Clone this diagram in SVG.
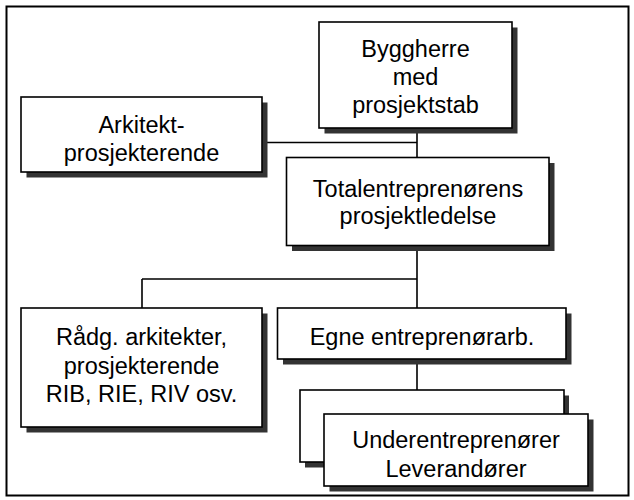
<svg xmlns="http://www.w3.org/2000/svg" width="634" height="500" viewBox="0 0 634 500">
<style>
.box{fill:#fff;stroke:#000;stroke-width:1.6}
.sh{fill:#333}
.ln{fill:none;stroke:#000;stroke-width:1.6}
text{font-family:"Liberation Sans",Arial,sans-serif;font-size:23.5px;fill:#000;text-anchor:middle}
</style>
<rect x="6.5" y="6.5" width="622" height="489" fill="#fff" stroke="#000" stroke-width="2"/>
<g id="connectors">
<path class="ln" d="M417 128V157M267 142.5H417M417 245V308M142 279H417M142 279V308M417 359V390"/>
</g>
<g id="byggherre">
<rect class="sh" x="324.5" y="27.5" width="193" height="106"/>
<rect class="box" x="319" y="22" width="193" height="106"/>
<text x="415.5" y="57">Byggherre</text>
<text x="415.5" y="85">med</text>
<text x="415.5" y="113">prosjektstab</text>
</g>
<g id="arkitekt">
<rect class="sh" x="26.5" y="102.5" width="241" height="75"/>
<rect class="box" x="21" y="97" width="241" height="75"/>
<text x="141.5" y="132.5">Arkitekt-</text>
<text x="141.5" y="160.5">prosjekterende</text>
</g>
<g id="totalentreprenor">
<rect class="sh" x="292" y="163" width="262.5" height="88"/>
<rect class="box" x="286.5" y="157.5" width="262.5" height="88"/>
<text x="418" y="196.5">Totalentreprenørens</text>
<text x="418" y="224">prosjektledelse</text>
</g>
<g id="radg">
<rect class="sh" x="26.5" y="313.5" width="241" height="119"/>
<rect class="box" x="21" y="308" width="241" height="119"/>
<text x="141.5" y="345">Rådg. arkitekter,</text>
<text x="141.5" y="374">prosjekterende</text>
<text x="141.5" y="401.5">RIB, RIE, RIV osv.</text>
</g>
<g id="egne">
<rect class="sh" x="283" y="313.5" width="288.5" height="51"/>
<rect class="box" x="277.5" y="308" width="288.5" height="51"/>
<text x="422" y="345">Egne entreprenørarb.</text>
</g>
<g id="underentreprenorer">
<rect class="sh" x="305" y="395.5" width="264" height="72"/>
<rect class="box" x="300" y="390" width="264" height="72"/>
<rect class="sh" x="329.5" y="419.5" width="264" height="72"/>
<rect class="box" x="324" y="414" width="264" height="72"/>
<text x="456" y="448">Underentreprenører</text>
<text x="456" y="476.5">Leverandører</text>
</g>
</svg>
